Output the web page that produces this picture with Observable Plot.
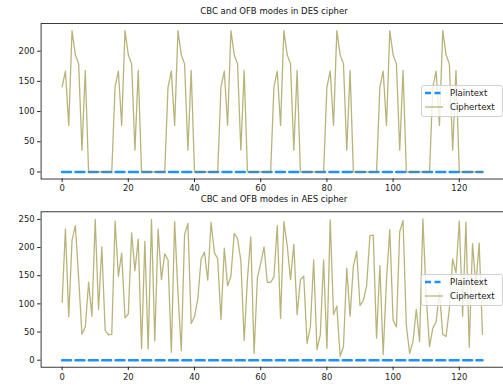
<!DOCTYPE html>
<html><head><meta charset="utf-8">
<script src="https://cdn.jsdelivr.net/npm/d3@7"></script>
<script src="https://cdn.jsdelivr.net/npm/@observablehq/plot@0.6"></script>
<style>
html,body{margin:0;padding:0;background:#fff;}
#wrap{position:relative;width:503px;height:389px;overflow:hidden;font-family:"DejaVu Sans",sans-serif;}
.panel{position:absolute;left:0;}
.title{position:absolute;left:0;width:548px;text-align:center;font-size:8.5px;color:#111;line-height:10px;white-space:nowrap;}
.legend{position:absolute;left:421px;}
</style></head>
<body><div id="wrap"></div>
<script>
const titles = ["CBC and OFB modes in DES cipher", "CBC and OFB modes in AES cipher"];
const seriesNames = ["Plaintext", "Ciphertext"];
const xTicks = [0, 20, 40, 60, 80, 100, 120];
const yTicksDES = [0, 50, 100, 150, 200];
const yTicksAES = [0, 50, 100, 150, 200, 250];

const plainDES = [0,0,0,0,0,0,0,0,0,0,0,0,0,0,0,0, 0,0,0,0,0,0,0,0,0,0,0,0,0,0,0,0,
  0,0,0,0,0,0,0,0,0,0,0,0,0,0,0,0, 0,0,0,0,0,0,0,0,0,0,0,0,0,0,0,0,
  0,0,0,0,0,0,0,0,0,0,0,0,0,0,0,0, 0,0,0,0,0,0,0,0,0,0,0,0,0,0,0,0,
  0,0,0,0,0,0,0,0,0,0,0,0,0,0,0,0, 0,0,0,0,0,0,0,0,0,0,0,0,0,0,0,0];
const cipherDES = [
  141,167,77,234,194,179,36,168,0,0,0,0,0,0,0,0,
  141,167,77,234,194,179,36,168,0,0,0,0,0,0,0,0,
  141,167,77,234,194,179,36,168,0,0,0,0,0,0,0,0,
  141,167,77,234,194,179,36,168,0,0,0,0,0,0,0,0,
  141,167,77,234,194,179,36,168,0,0,0,0,0,0,0,0,
  141,167,77,234,194,179,36,168,0,0,0,0,0,0,0,0,
  141,167,77,234,194,179,36,168,0,0,0,0,0,0,0,0,
  141,167,77,234,194,179,36,168,0,0,0,0,0,0,0,0];
const plainAES = plainDES.slice();
const cipherAES = [
  103,233,77,213,239,145,46,59,138,78,250,90,201,53,45,46,
  247,149,190,75,82,226,159,215,20,211,20,250,34,233,143,189,
  178,14,246,120,17,223,243,65,77,109,180,192,142,245,191,180,
  72,199,132,149,225,216,177,35,145,219,12,146,172,201,138,138,
  148,239,74,246,204,143,206,81,143,149,30,59,178,19,45,178,
  21,249,81,96,7,24,163,78,167,193,97,106,132,221,222,39,
  168,10,142,232,71,59,228,248,62,12,33,90,33,251,114,24,
  57,68,121,46,42,91,180,155,247,78,245,23,207,132,208,46];

const C_PLAIN = "#1e90ff";
const C_CIPH = "#8c8526";

function panel(plain, cipher, yDomain, yTicks, h, mt, mb) {
  const rows = plain.map((p, i) => ({i, p, c: cipher[i]}));
  return Plot.plot({
    width: 508, height: h, marginTop: mt, marginBottom: mb, marginLeft: 41, marginRight: 0,
    style: {fontFamily: "DejaVu Sans, sans-serif", fontSize: "8.5px", color: "#222", background: "transparent"},
    x: {domain: [-6.35, 133.35]},
    y: {domain: yDomain},
    marks: [
      Plot.lineY(rows, {x: "i", y: "p", stroke: C_PLAIN, strokeWidth: 2.6, strokeDasharray: "9,4.5"}),
      Plot.lineY(rows, {x: "i", y: "c", stroke: C_CIPH, strokeOpacity: 0.62, strokeWidth: 1.3}),
      Plot.frame({stroke: "#222", strokeWidth: 0.9}),
      Plot.axisX({ticks: xTicks, tickSize: 3.5, tickPadding: 3, label: null}),
      Plot.axisY({ticks: yTicks, tickSize: 3.5, tickPadding: 3, label: null})
    ]
  });
}

function legend(top) {
  const ns = "http://www.w3.org/2000/svg";
  const svg = document.createElementNS(ns, "svg");
  svg.setAttribute("width", 82); svg.setAttribute("height", 33);
  svg.setAttribute("class", "legend");
  svg.style.top = top + "px";
  const rect = document.createElementNS(ns, "rect");
  Object.entries({x: 0.5, y: 0.5, width: 81, height: 31, rx: 2, fill: "white", "fill-opacity": 0.8, stroke: "#d0d0d0", "stroke-width": 1})
    .forEach(([k, v]) => rect.setAttribute(k, v));
  svg.appendChild(rect);
  const items = [
    {name: seriesNames[0], color: C_PLAIN, w: 2.6, dash: "6,3.5", op: 1},
    {name: seriesNames[1], color: C_CIPH, w: 1.3, dash: null, op: 0.62}
  ];
  items.forEach((it, k) => {
    const y = 8 + k * 14;
    const ln = document.createElementNS(ns, "line");
    ln.setAttribute("x1", 4); ln.setAttribute("x2", 22); ln.setAttribute("y1", y); ln.setAttribute("y2", y);
    ln.setAttribute("stroke", it.color); ln.setAttribute("stroke-width", it.w); ln.setAttribute("stroke-opacity", it.op);
    if (it.dash) ln.setAttribute("stroke-dasharray", it.dash);
    svg.appendChild(ln);
    const t = document.createElementNS(ns, "text");
    t.setAttribute("x", 29); t.setAttribute("y", y); t.setAttribute("dy", "0.35em");
    t.setAttribute("font-size", "8.5px"); t.setAttribute("font-family", "DejaVu Sans, sans-serif"); t.setAttribute("fill", "#222");
    t.textContent = it.name;
    svg.appendChild(t);
  });
  return svg;
}

const wrap = document.getElementById("wrap");
const p1 = panel(plainDES, cipherDES, [-11.7, 245.7], yTicksDES, 200, 23.3, 19.7);
p1.classList.add("panel"); p1.style.top = "0px";
const p2 = panel(plainAES, cipherAES, [-12.5, 263.5], yTicksAES, 199, 21.5, 20.5);
p2.classList.add("panel"); p2.style.top = "190px";
wrap.appendChild(p1); wrap.appendChild(p2);
wrap.appendChild(legend(85));
wrap.appendChild(legend(274));
[[titles[0], 6], [titles[1], 194]].forEach(([txt, y]) => {
  const d = document.createElement("div"); d.className = "title"; d.style.top = y + "px"; d.textContent = txt; wrap.appendChild(d);
});
</script></body></html>
